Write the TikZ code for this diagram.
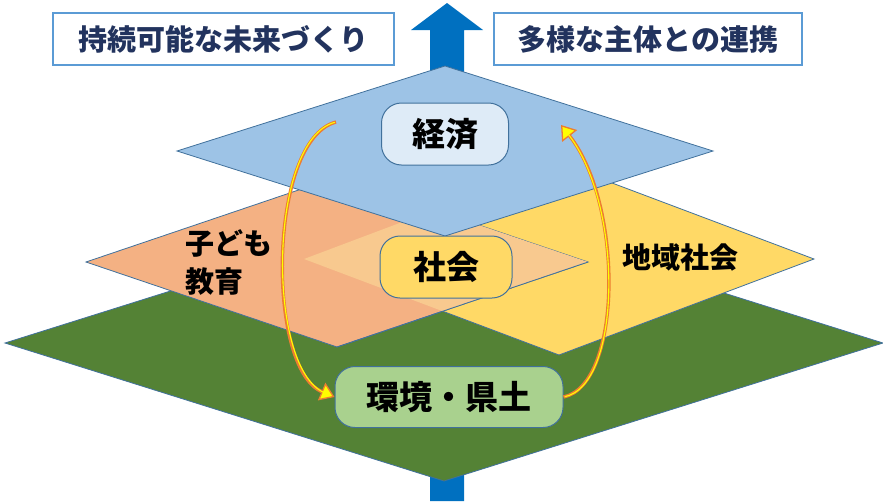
\documentclass[tikz,border=0pt]{standalone}
\usepackage{fontspec}
\setmainfont{Noto Sans CJK JP}
\usepackage{xcolor}
\usetikzlibrary{arrows.meta}
\definecolor{planeB}{HTML}{9DC3E6}
\definecolor{planeO}{HTML}{F4B183}
\definecolor{planeY}{HTML}{FFD966}
\definecolor{planeG}{HTML}{548235}
\definecolor{planeX}{HTML}{F8C98F}
\definecolor{edgeblue}{HTML}{41719C}
\definecolor{boxline}{HTML}{5B9BD5}
\definecolor{navy}{HTML}{22335E}
\definecolor{upblue}{HTML}{0070C0}
\definecolor{loopor}{HTML}{ED7D31}
\definecolor{loopyel}{HTML}{FFFF00}
\definecolor{econfill}{HTML}{DEEBF7}
\definecolor{envfill}{HTML}{A9D18E}

\begin{document}
\begin{tikzpicture}[x=1pt,y=-1pt,
  plane/.style={draw=edgeblue, line width=0.8pt},
  layerbox/.style={draw=edgeblue, line width=1pt, rounded corners=20pt, inner sep=0pt,
    font=\fontsize{33}{36}\selectfont\bfseries},
  titlebox/.style={draw=boxline, line width=1.3pt, fill=white, minimum height=52pt, inner sep=0pt,
    text=navy, font=\fontsize{29}{31}\selectfont\bfseries},
  planelabel/.style={font=\fontsize{29}{38}\selectfont\bfseries, align=left, inner sep=0pt},
  loop/.style={draw=loopor, line width=3.4pt,
    -{Triangle[length=14pt,width=19pt,fill=loopyel,line width=1.3pt]},
    postaction={draw=loopyel, line width=1.1pt, -, shorten >=11pt, shorten <=1.2pt}}
]
\useasboundingbox (0,0) rectangle (883,501);

% big arrow behind the planes
\fill[upblue] (430,501) -- (430,30) -- (411,30) -- (447,3) -- (483,30) -- (464,30) -- (464,501) -- cycle;

% planes: green, yellow, orange
\foreach \cx/\cy/\w/\h/\c in {444/343/439/138/planeG, 559/259/255/96/planeY, 337/262/251/85/planeO}
\draw[plane, fill=\c] (\cx-\w,\cy) -- (\cx,\cy-\h) -- (\cx+\w,\cy) -- (\cx,\cy+\h) -- cycle;

% overlap of orange and yellow
\begin{scope}
\clip (86,262) -- (337,177) -- (588,262) -- (337,347) -- cycle;
\fill[planeX] (304,259) -- (559,163) -- (814,259) -- (559,355) -- cycle;
\end{scope}
\draw[plane] (588,262) -- (337,347);

% blue plane on top
\draw[plane, fill=planeB] (177,151) -- (445,66) -- (713,151) -- (445,236) -- cycle;

% titles
\node[titlebox, minimum width=341pt] (goal) at (223.5,39) {持続可能な未来づくり};
\node[titlebox, minimum width=308pt] (link) at (648,39) {多様な主体との連携};

% layer boxes
\node[layerbox, fill=econfill, minimum width=127pt, minimum height=62pt] (econ) at (445,134) {経済};
\node[layerbox, fill=planeY, minimum width=132pt, minimum height=62pt] (soc) at (446,267) {社会};
\node[layerbox, fill=envfill, minimum width=228pt, minimum height=61pt] (env) at (449,397) {環境・県土};

% plane labels
\node[planelabel, anchor=west] (kids) at (185,263) {子ども\\教育};
\node[planelabel] (local) at (680,257) {地域社会};

% loop arrows
\coordinate (ltail) at (336,122);
\coordinate (rtip) at (561,125);
\draw[loop] (ltail) .. controls (268,140) and (266,368) .. (env.west);
\draw[loop] (env.east) .. controls (622,385) and (624,205) .. (rtip);
\end{tikzpicture}
\end{document}
